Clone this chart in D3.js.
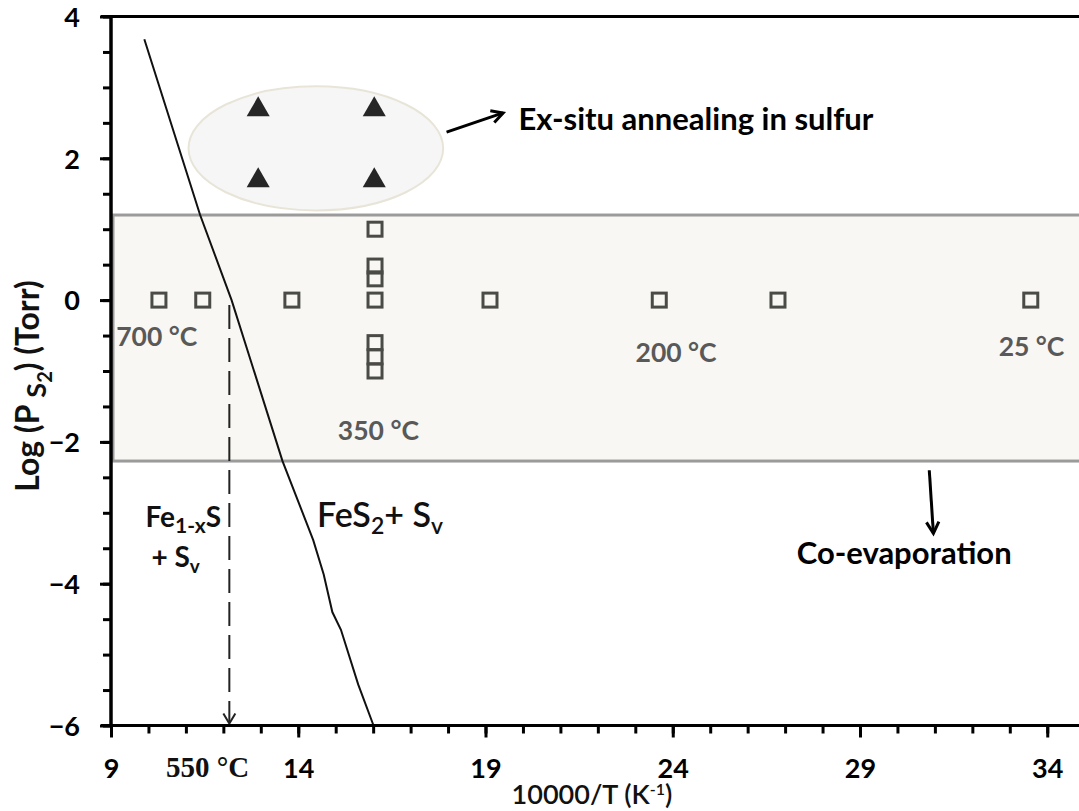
<!DOCTYPE html>
<html>
<head>
<meta charset="utf-8">
<script src="https://cdn.jsdelivr.net/npm/d3@7"></script>
<style>
  html, body { margin: 0; padding: 0; background: #fff; }
  svg { display: block; }
  text { font-family: Lato, "Open Sans", sans-serif; }
</style>
</head>
<body>
<svg id="chart" width="1079" height="811"></svg>
<script>
// Fe–S phase boundary: log(P_S2) vs 10000/T
const boundaryX = [9.89, 11.38, 12.22, 13.58, 14.40, 14.68, 14.91, 15.14, 15.60, 16.01];
const boundaryY = [3.68, 1.20, 0.00, -2.27, -3.385, -3.87, -4.40, -4.65, -5.42, -6.00];

// co-evaporation growth conditions (open squares)
const coevapX = [10.28, 11.45, 13.83, 16.05, 16.05, 16.05, 16.05, 16.05, 16.05, 16.05, 19.12, 23.64, 26.81, 33.56];
const coevapY = [0, 0, 0, 1.0, 0.48, 0.30, 0, -0.6, -0.8, -1.0, 0, 0, 0, 0];

// ex-situ sulfur annealing conditions (filled triangles)
const annealX = [12.93, 16.03, 12.93, 16.03];
const annealY = [2.70, 2.70, 1.70, 1.70];

// co-evaporation pressure window
const bandRange = [1.2, -2.27];

// 550 °C decomposition marker
const decompX = 12.16;
const decompTop = -0.07;

const xMajorTicks = [9, 14, 19, 24, 29, 34];
const xMinorTicks = d3.range(9, 36, 1);
const yMajorTicks = [-6, -4, -2, 0, 2, 4];
const yMinorTicks = d3.range(-6, 4.01, 0.5);

const tempLabels = [
  { text: "700 °C", x: 10.22, y: -0.65 },
  { text: "350 °C", x: 16.14, y: -1.975 },
  { text: "200 °C", x: 24.09, y: -0.87 },
  { text: "25 °C",  x: 33.58, y: -0.785 }
];

const svg = d3.select("#chart");

const x = d3.scaleLinear().domain([9, 35]).range([111, 1084.7]);
const y = d3.scaleLinear().domain([-6, 4]).range([725.5, 16.5]);

// shaded co-evaporation window
svg.append("rect")
  .attr("x", x(9) + 2)
  .attr("y", y(bandRange[0]))
  .attr("width", x(35) - x(9))
  .attr("height", y(bandRange[1]) - y(bandRange[0]))
  .attr("fill", "#f8f7f3")
  .attr("stroke", "#9b9b9b")
  .attr("stroke-width", 3);

// ellipse grouping the annealing points
const ellC = [14.47, 2.14];
svg.append("ellipse")
  .attr("cx", x(ellC[0]))
  .attr("cy", y(ellC[1]))
  .attr("rx", x(ellC[0] + 3.4) - x(ellC[0]))
  .attr("ry", y(ellC[1] - 0.875) - y(ellC[1]))
  .attr("fill", "#f6f6f6")
  .attr("stroke", "#e8e5d8")
  .attr("stroke-width", 2);

// phase boundary line
const boundary = boundaryX.map((d, i) => [d, boundaryY[i]]);
svg.append("path")
  .datum(boundary)
  .attr("fill", "none")
  .attr("stroke", "#111")
  .attr("stroke-width", 2)
  .attr("d", d3.line().x(d => x(d[0])).y(d => y(d[1])));

// dashed drop line to 550 °C
svg.append("line")
  .attr("x1", x(decompX)).attr("x2", x(decompX))
  .attr("y1", y(decompTop)).attr("y2", y(-6) - 3)
  .attr("stroke", "#222")
  .attr("stroke-width", 2)
  .attr("stroke-dasharray", "24,9");
svg.append("path")
  .attr("d", `M${x(decompX) - 6},${y(-6) - 12} L${x(decompX)},${y(-6) - 2} L${x(decompX) + 6},${y(-6) - 12}`)
  .attr("fill", "none").attr("stroke", "#222").attr("stroke-width", 2);

// square markers
svg.append("g").selectAll("rect")
  .data(coevapX.map((d, i) => [d, coevapY[i]]))
  .join("rect")
  .attr("x", d => x(d[0]) - 7)
  .attr("y", d => y(d[1]) - 7)
  .attr("width", 14).attr("height", 14)
  .attr("fill", "none")
  .attr("stroke", "#4a4a47")
  .attr("stroke-width", 3);

// triangle markers
const tri = d3.symbol().type(d3.symbolTriangle).size(230);
svg.append("g").selectAll("path")
  .data(annealX.map((d, i) => [d, annealY[i]]))
  .join("path")
  .attr("transform", d => `translate(${x(d[0])},${y(d[1]) + 1})`)
  .attr("d", tri)
  .attr("fill", "#262626");

// axes
const axisY = svg.append("g").attr("transform", `translate(${x(9)},0)`);
axisY.call(d3.axisLeft(y).tickValues(yMinorTicks).tickSize(8).tickFormat(""));
const axisYMajor = svg.append("g").attr("transform", `translate(${x(9)},0)`)
  .call(d3.axisLeft(y).tickValues(yMajorTicks).tickSize(11).tickPadding(20).tickFormat(d3.format("d")));

const axisX = svg.append("g").attr("transform", `translate(0,${y(-6)})`);
axisX.call(d3.axisBottom(x).tickValues(xMinorTicks).tickSize(8).tickFormat(""));
const axisXMajor = svg.append("g").attr("transform", `translate(0,${y(-6)})`)
  .call(d3.axisBottom(x).tickValues(xMajorTicks).tickSize(12).tickFormat(d3.format("d")));

[axisY, axisYMajor, axisX, axisXMajor].forEach(g => {
  g.select(".domain").remove();
  g.selectAll(".tick line").attr("stroke", "#000").attr("stroke-width", 3);
  g.selectAll("text")
    .attr("fill", "#000")
    .style("font-family", "Lato, 'Open Sans', sans-serif")
    .style("font-weight", "700")
    .style("font-size", "27px");
});
axisYMajor.selectAll("text").attr("dy", "0.36em");
axisXMajor.selectAll("text").attr("dy", null).attr("y", 52);

// axis lines and top frame
svg.append("line").attr("x1", x(9)).attr("x2", x(9)).attr("y1", y(4)).attr("y2", y(-6))
  .attr("stroke", "#000").attr("stroke-width", 3.5);
svg.append("line").attr("x1", x(9) - 10).attr("x2", 1079).attr("y1", y(-6)).attr("y2", y(-6))
  .attr("stroke", "#000").attr("stroke-width", 3);
svg.append("line").attr("x1", x(9) - 10).attr("x2", 1079).attr("y1", y(4)).attr("y2", y(4))
  .attr("stroke", "#000").attr("stroke-width", 3);

// 550 °C tick label
svg.append("text")
  .attr("x", x(11.58)).attr("y", 777)
  .attr("text-anchor", "middle")
  .style("font-family", "'Liberation Serif', serif")
  .style("font-weight", "700")
  .style("font-size", "29px")
  .attr("fill", "#111")
  .text("550 °C");

// axis titles
const xt = svg.append("text")
  .attr("x", 592).attr("y", 804)
  .attr("text-anchor", "middle")
  .style("font-size", "27px").style("font-weight", "600")
  .attr("fill", "#111");
xt.append("tspan").text("10000/T (K");
xt.append("tspan").attr("dy", -9).style("font-size", "16px").text("-1");
xt.append("tspan").attr("dy", 9).text(")");

const yt = svg.append("text")
  .attr("transform", `translate(39,${386}) rotate(-90)`)
  .attr("text-anchor", "middle")
  .style("font-size", "32px").style("font-weight", "700")
  .attr("fill", "#111");
yt.append("tspan").text("Log (P ");
yt.append("tspan").attr("dy", 7).style("font-size", "27px").text("S");
yt.append("tspan").attr("dy", 6).style("font-size", "20px").text("2");
yt.append("tspan").attr("dy", -13).text(") (Torr)");

// temperature labels
svg.append("g").selectAll("text")
  .data(tempLabels)
  .join("text")
  .attr("x", d => x(d.x)).attr("y", d => y(d.y))
  .attr("text-anchor", "middle")
  .style("font-size", "26.5px").style("font-weight", "700")
  .attr("fill", "#595959")
  .text(d => d.text);

// phase field labels
const fe = svg.append("text")
  .attr("x", x(9.92)).attr("y", y(-3.20))
  .style("font-size", "28px").style("font-weight", "700")
  .attr("fill", "#111");
fe.append("tspan").text("Fe");
fe.append("tspan").attr("dy", 6).style("font-size", "21px").text("1-x");
fe.append("tspan").attr("dy", -6).text("S");
const fe2 = svg.append("text")
  .attr("x", x(10.08)).attr("y", y(-3.77))
  .style("font-size", "28px").style("font-weight", "700")
  .attr("fill", "#111");
fe2.append("tspan").text("+ S");
fe2.append("tspan").attr("dy", 6).style("font-size", "19px").text("v");

const fs = svg.append("text")
  .attr("x", x(14.50)).attr("y", y(-3.20))
  .style("font-size", "34px").style("font-weight", "600")
  .attr("fill", "#111");
fs.append("tspan").text("FeS");
fs.append("tspan").attr("dy", 7).style("font-size", "23px").text("2");
fs.append("tspan").attr("dy", -7).text("+ S");
fs.append("tspan").attr("dy", 7).style("font-size", "23px").text("v");

// annotation arrows
function arrow(x0, y0, x1, y1) {
  const px0 = x(x0), py0 = y(y0), px1 = x(x1), py1 = y(y1);
  const a = Math.atan2(py1 - py0, px1 - px0);
  const h = 13, w = 0.5;
  svg.append("line").attr("x1", px0).attr("y1", py0).attr("x2", px1).attr("y2", py1)
    .attr("stroke", "#000").attr("stroke-width", 3);
  svg.append("path")
    .attr("d", `M${px1 - h * Math.cos(a - w)},${py1 - h * Math.sin(a - w)} L${px1},${py1} L${px1 - h * Math.cos(a + w)},${py1 - h * Math.sin(a + w)}`)
    .attr("fill", "none").attr("stroke", "#000").attr("stroke-width", 3);
}
arrow(17.96, 2.37, 19.47, 2.64);
arrow(30.85, -2.40, 30.96, -3.29);

svg.append("text")
  .attr("x", x(19.88)).attr("y", y(2.40))
  .style("font-size", "31px").style("font-weight", "700")
  .attr("fill", "#000")
  .text("Ex-situ annealing in sulfur");

svg.append("text")
  .attr("x", x(30.18)).attr("y", y(-3.72))
  .attr("text-anchor", "middle")
  .style("font-size", "31px").style("font-weight", "700")
  .attr("fill", "#000")
  .text("Co-evaporation");
</script>
</body>
</html>
